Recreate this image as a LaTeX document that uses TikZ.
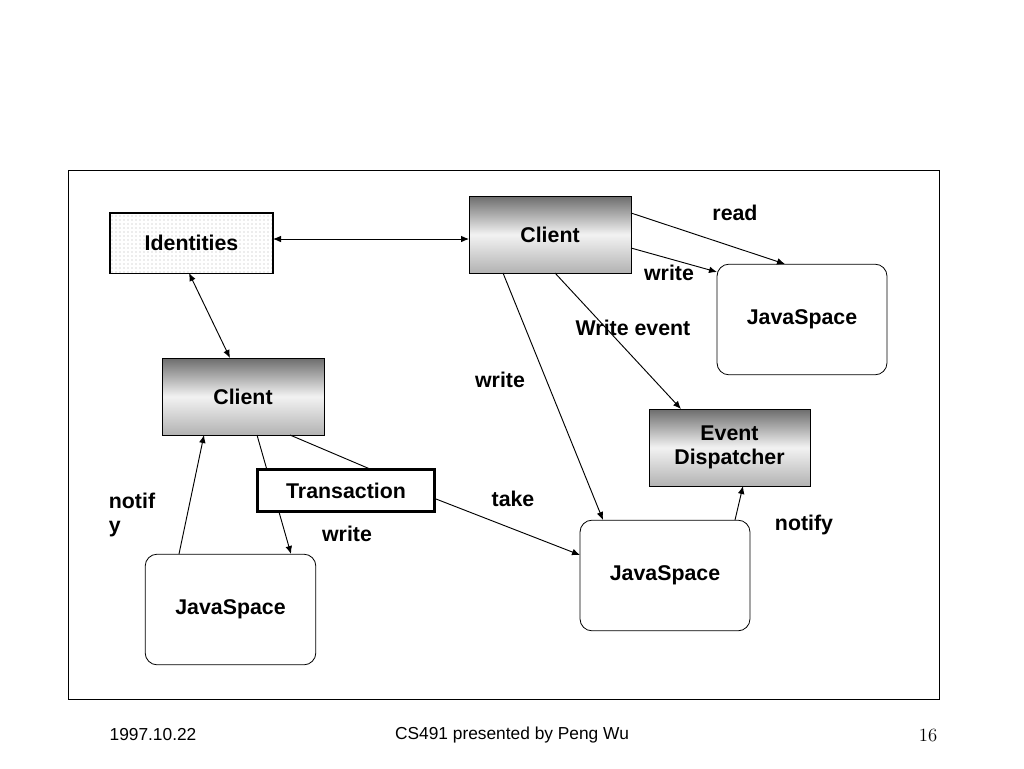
\documentclass[tikz,border=0pt]{standalone}
\usepackage{fontspec}
\setmainfont{Liberation Sans}
\usetikzlibrary{patterns,arrows.meta}
\begin{document}
\begin{tikzpicture}[x=0.75pt,y=-0.75pt,
 lbl/.style={font=\fontsize{16}{18}\selectfont\bfseries},
 box/.style={draw,line width=0.6pt,font=\fontsize{16}{18}\selectfont\bfseries,align=center,inner sep=0pt},
 cl/.style={box,top color=gray!85!black,bottom color=gray!60,middle color=gray!10},
 js/.style={box,rounded corners=9pt,fill=white},
 ar/.style={-{Latex[length=6pt,width=5pt]},line width=0.7pt},
 dar/.style={{Latex[length=6pt,width=5pt]}-{Latex[length=6pt,width=5pt]},line width=0.7pt}]
\useasboundingbox (0,0) rectangle (1024,768);
\draw[line width=0.6pt] (68,170) rectangle (939,699);
\node[box,minimum width=163\pgflinewidth,pattern=dots,pattern color=gray!60,minimum width=122pt,minimum height=45pt] (id) at (191.5,243) {};
\node[lbl] (idt) at (191.5,243) {Identities};
\draw[line width=0.6pt] (id.south west) rectangle (id.north east);
\node[cl,minimum width=121.5pt,minimum height=57.75pt] (c1) at (550,234.5) {Client};
\node[cl,minimum width=121.5pt,minimum height=57.75pt] (c2) at (243,396.5) {Client};
\node[cl,minimum width=120.75pt,minimum height=57.75pt] (ed) at (729.5,447.5) {Event\\Dispatcher};
\node[js,minimum width=127.5pt,minimum height=83pt] (j1) at (802,319.5) {JavaSpace};
\node[js,minimum width=127.5pt,minimum height=83pt] (j2) at (665,575.5) {JavaSpace};
\node[js,minimum width=128pt,minimum height=83pt] (j3) at (230.5,609.5) {JavaSpace};
\coordinate (tA) at (370,469);
\draw[dar] (273,239) -- (469,239);
\draw[dar] (189,273) -- (230,358);
\draw[ar] (631,213) -- (785,264);
\draw[ar] (631,248) -- (717,272);
\draw[ar] (555,273) -- (681,409);
\draw[ar] (503,273) -- (603,520);
\draw[line width=0.7pt] (290,435) -- (tA);
\draw[ar] (257,435) -- (291,554);
\draw[ar] (179,554) -- (204,435);
\draw[ar] (735,520) -- (743,486);
\node[draw,line width=2.2pt,fill=white,minimum width=133pt,minimum height=31pt,font=\fontsize{16}{18}\selectfont\bfseries,inner sep=0pt] (tr) at (346,490.5) {Transaction};
\draw[ar] (436,499) -- (580,555);
\node[lbl] (l1) at (735,213) {read};
\node[lbl] (l2) at (669,273) {write};
\node[lbl] (l3) at (633,328) {Write event};
\node[lbl] (l4) at (500,380) {write};
\node[lbl] (l5) at (513,499) {take};
\node[lbl] (l6) at (347,534) {write};
\node[lbl,align=left] (l7) at (132,515) {notif\\y};
\node[lbl] (l8) at (804,525) {notify};
\node[font=\fontsize{13}{15}\selectfont] (f1) at (153,735) {1997.10.22};
\node[font=\fontsize{13}{15}\selectfont] (f2) at (512,735) {CS491 presented by Peng Wu};
\node[font=\fontfamily{lmr}\fontsize{14}{16}\selectfont] (f3) at (928,735) {16};
\end{tikzpicture}
\end{document}
